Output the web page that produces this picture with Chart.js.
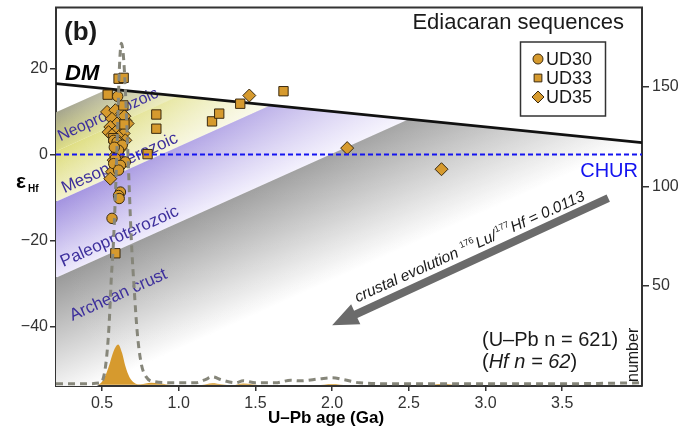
<!DOCTYPE html>
<html>
<head>
<meta charset="utf-8">
<title>Ediacaran sequences – εHf vs U–Pb age</title>
<script src="https://cdn.jsdelivr.net/npm/chart.js@4.4.1/dist/chart.umd.min.js"></script>
<style>
  html, body { margin: 0; padding: 0; background: #ffffff; }
  #wrap { width: 696px; height: 434px; }
</style>
</head>
<body>
<div id="wrap"><canvas id="chart" width="696" height="434"></canvas></div>
<script>
// ---- Zircon Hf data: U–Pb age (Ga) and εHf(t) for each sample ----
const ud30Age = [0.602, 0.576, 0.598, 0.632, 0.608, 0.587, 0.652, 0.576, 0.620, 0.608, 0.620, 0.608, 0.612, 0.565, 0.580];
const ud30Eps = [13.5, 3.3, 2.9, 2.2, 1.0, -0.9, -1.7, -2.1, -2.5, -3.6, -8.7, -9.5, -10.2, -14.8, 1.7];

const ud33Age = [0.608, 0.641, 0.537, 0.639, 0.854, 0.854, 0.797, 1.217, 1.264, 1.401, 1.683, 0.587, 0.646, 0.607, 0.574];
const ud33Eps = [17.6, 17.8, 13.9, 11.4, 9.3, 6.0, 0.1, 7.7, 9.5, 11.8, 14.7, -22.9, 7.0, 0.5, 3.8];

const ud35Age = [1.460, 2.098, 2.713, 0.533, 0.587, 0.631, 0.565, 0.652, 0.598, 0.667, 0.554, 0.631, 0.543,
                 0.587, 0.641, 0.565, 0.608, 0.652, 0.620, 0.598, 0.587, 0.576, 0.565, 0.554, 0.613, 0.646];
const ud35Eps = [13.7, 1.5, -3.4, 9.9, 10.3, 9.5, 8.3, 7.9, 7.2, 7.2, 6.4, 6.4, 5.2,
                 5.2, 4.9, 4.5, 4.1, 3.3, 1.4, 0.2, -0.2, -1.3, -4.0, -5.6, 2.9, 8.9];

// ---- Age distributions on the "number" axis ----
const hfKdeAge = [0.2, 0.36, 0.49, 0.515, 0.535, 0.548, 0.56, 0.574, 0.586, 0.6, 0.613, 0.626, 0.639, 0.652,
                  0.665, 0.678, 0.691, 0.71, 0.73, 0.756, 0.788, 0.847, 0.977, 1.107, 1.17, 1.22, 1.28, 1.37,
                  1.42, 1.5, 1.63, 1.73, 1.79, 1.92, 2.0, 2.08, 2.18, 2.44, 2.77, 3.09, 3.48, 3.81, 4.02];
const hfKdeCount = [0.5, 0.5, 1, 5.5, 18, 33, 53, 71, 93, 125, 159, 172, 166, 149,
                    124, 98, 73, 48, 26, 10.5, 4, 1.5, 1, 1, 2.5, 4, 2.5, 1,
                    2, 1, 1, 2.3, 2, 3, 3.5, 2.5, 1, 0.5, 0.5, 0.5, 0.5, 0.8, 1];

const upbKdeAge = [0.2, 0.45, 0.489, 0.515, 0.543, 0.576, 0.605, 0.631, 0.65, 0.667, 0.69, 0.717, 0.75,
                   0.82, 0.88, 0.95, 1.15, 1.22, 1.28, 1.35, 1.42, 1.48, 1.55, 1.9, 2.0, 2.1, 2.6, 2.72, 2.85, 4.02];
const upbKdeCount = [0, 0, 0.7, 3.5, 9, 17, 20.3, 16, 10, 6, 2.5, 0.7, 0.3,
                     1, 0.6, 0, 0, 0.8, 0.3, 0, 0.7, 0.3, 0, 0, 0.4, 0, 0, 0.4, 0, 0];

// ---- Reference lines ----
const dmAge = [0.2, 4.02];
const dmEps = [16.45, 2.78];
const churAge = [0.2, 4.02];
const churEps = [0, 0];

// Crustal evolution bands: model ages (Ga) where each band leaves the DM line
const modelAgeBounds = [0.54, 1.0, 1.6, 2.5, 4.0];
const bandNames = ['Neoproterozoic', 'Mesoproterozoic', 'Paleoproterozoic', 'Archean crust'];
const bandLabelAge = [0.229, 0.255, 0.248, 0.307];
const bandLabelEps = [3.1, -9.0, -26.1, -38.6];
const crustSlope = 16;            // εHf units per Ga for 176Lu/177Hf = 0.0113
const arrowAge = [3.8, 2.0];
const arrowEps = [-10.1, -39.6];
const arrowLabelAt = [2.165, -34.3];

// ---- Axis ticks ----
const xTicks = [0.5, 1.0, 1.5, 2.0, 2.5, 3.0, 3.5];
const yTicks = [20, 0, -20, -40];
const countTicks = [50, 100, 150];

// ---- Styles ----
const FONT = '"Liberation Sans", Arial, Helvetica, sans-serif';
const ORANGE = '#d69a2e';
const OUTLINE = '#3a2a10';
const AXIS = '#333333';
const bandFill = [
  { top: '#a4a48c', bottom: '#dcdc84', fade: 0.55 },
  { top: '#dedd7e', bottom: '#f3f2cf', fade: 0.6 },
  { top: '#a393e0', bottom: '#eeeafc', fade: 0.5 },
  { top: '#9a9a9a', bottom: '#ffffff', fade: 0.2 }
];
const sampleMarkers = [
  { label: 'UD30', style: 'circle', radius: 5.2 },
  { label: 'UD33', style: 'rect', radius: 6.6 },
  { label: 'UD35', style: 'rectRot', radius: 6.5 }
];

const pairs = (xs, ys) => xs.map((v, i) => ({ x: v, y: ys[i] }));

function marker(ctx, style, x, y, r) {
  ctx.beginPath();
  if (style === 'circle') {
    ctx.arc(x, y, r, 0, Math.PI * 2);
  } else if (style === 'rect') {
    const h = r * Math.SQRT1_2;
    ctx.rect(x - h, y - h, 2 * h, 2 * h);
  } else {
    ctx.moveTo(x - r, y); ctx.lineTo(x, y - r); ctx.lineTo(x + r, y); ctx.lineTo(x, y + r); ctx.closePath();
  }
  ctx.fillStyle = ORANGE; ctx.fill();
  ctx.lineWidth = 1; ctx.strokeStyle = OUTLINE; ctx.stroke();
}

// Background bands, band names, arrow and annotations
const decorations = {
  id: 'decorations',
  beforeDatasetsDraw(chart) {
    const { ctx, chartArea: a, scales: { x, y } } = chart;
    const px = v => x.getPixelForValue(v), py = v => y.getPixelForValue(v);
    const dm = t => dmEps[0] + (dmEps[1] - dmEps[0]) * (t - dmAge[0]) / (dmAge[1] - dmAge[0]);
    const evo = (T, t) => dm(T) - crustSlope * (T - t);
    const t0 = x.min;
    const s = (py(0) - py(crustSlope)) / (px(1) - px(0));
    const nl = Math.hypot(s, 1), nx = s / nl, ny = 1 / nl;

    ctx.save();
    ctx.beginPath(); ctx.rect(a.left, a.top, a.width, a.height); ctx.clip();
    for (let i = 0; i < bandNames.length; i++) {
      const T1 = modelAgeBounds[i], T2 = modelAgeBounds[i + 1];
      const path = () => {
        ctx.beginPath();
        ctx.moveTo(px(t0), py(evo(T1, t0)));
        ctx.lineTo(px(T1), py(dm(T1)));
        ctx.lineTo(px(T2), py(dm(T2)));
        ctx.lineTo(px(t0), py(evo(T2, t0)));
        ctx.closePath();
      };
      const p1x = px(T1), p1y = py(dm(T1)), p2x = px(T2), p2y = py(dm(T2));
      const d = (p2x - p1x) * nx + (p2y - p1y) * ny;
      const g = ctx.createLinearGradient(p1x, p1y, p1x + nx * d, p1y + ny * d);
      g.addColorStop(0, bandFill[i].top);
      g.addColorStop(1, bandFill[i].bottom);
      path(); ctx.fillStyle = g; ctx.fill();
      const w = ctx.createLinearGradient(px(t0), 0, px(T2), 0);
      w.addColorStop(0, 'rgba(255,255,255,0)');
      w.addColorStop(1, 'rgba(255,255,255,' + bandFill[i].fade + ')');
      path(); ctx.fillStyle = w; ctx.fill();
    }
    // band names, rotated along the evolution trend
    const ang = -Math.atan(s);
    ctx.fillStyle = '#3d2f9c';
    ctx.textBaseline = 'alphabetic';
    ctx.textAlign = 'left';
    bandNames.forEach((name, i) => {
      ctx.save();
      ctx.translate(px(bandLabelAge[i]), py(bandLabelEps[i]));
      ctx.rotate(ang);
      ctx.font = (i === 0 ? 16 : 17) + 'px ' + FONT;
      ctx.fillText(name, 0, 0);
      ctx.restore();
    });
    ctx.restore();
  },
  afterDatasetsDraw(chart) {
    const { ctx, chartArea: a, scales: { x, y } } = chart;
    const px = v => x.getPixelForValue(v), py = v => y.getPixelForValue(v);
    const s = (py(0) - py(crustSlope)) / (px(1) - px(0));
    ctx.save();
    // crustal evolution arrow
    const ax1 = px(arrowAge[0]), ay1 = py(arrowEps[0]), ax2 = px(arrowAge[1]), ay2 = py(arrowEps[1]);
    const L = Math.hypot(ax2 - ax1, ay2 - ay1), ux = (ax2 - ax1) / L, uy = (ay2 - ay1) / L;
    const headLen = 26, headHalf = 11, half = 4;
    const bx = ax2 - ux * headLen, by = ay2 - uy * headLen;
    ctx.fillStyle = '#6b6b6b';
    ctx.beginPath();
    ctx.moveTo(ax1 - uy * half, ay1 + ux * half);
    ctx.lineTo(bx - uy * half, by + ux * half);
    ctx.lineTo(bx - uy * headHalf, by + ux * headHalf);
    ctx.lineTo(ax2, ay2);
    ctx.lineTo(bx + uy * headHalf, by - ux * headHalf);
    ctx.lineTo(bx + uy * half, by - ux * half);
    ctx.lineTo(ax1 + uy * half, ay1 - ux * half);
    ctx.closePath();
    ctx.fill();

    // arrow caption with superscript isotopes
    ctx.save();
    ctx.translate(px(arrowLabelAt[0]), py(arrowLabelAt[1]));
    ctx.rotate(-Math.atan(s));
    ctx.fillStyle = '#1a1a1a';
    ctx.textAlign = 'left';
    ctx.textBaseline = 'alphabetic';
    let cx = 0;
    const seg = (t, font, dy) => { ctx.font = font; ctx.fillText(t, cx, dy); cx += ctx.measureText(t).width; };
    const big = 'italic 15.5px ' + FONT, sup = '9px ' + FONT;
    seg('crustal evolution ', big, 0);
    seg('176', sup, -7);
    cx += 1;
    seg('Lu/', big, 0);
    cx += 1;
    seg('177', sup, -7);
    cx += 1;
    seg('Hf = 0.0113', big, 0);
    ctx.restore();

    // reference line names
    ctx.textBaseline = 'alphabetic';
    ctx.fillStyle = '#000000';
    ctx.textAlign = 'left';
    ctx.font = 'bold italic 22px ' + FONT;
    ctx.fillText('DM', a.left + 9, 80);
    ctx.fillStyle = '#1414f0';
    ctx.textAlign = 'right';
    ctx.font = '20px ' + FONT;
    ctx.fillText('CHUR', a.right - 4, 177);

    // panel letter and title
    ctx.fillStyle = '#1a1a1a';
    ctx.textAlign = 'left';
    ctx.font = 'bold 26px ' + FONT;
    ctx.fillText('(b)', a.left + 8, 40);
    ctx.textAlign = 'right';
    ctx.font = '22px ' + FONT;
    ctx.fillText('Ediacaran sequences', 624, 29);

    // sample counts
    ctx.textAlign = 'left';
    ctx.font = '20px ' + FONT;
    ctx.fillText('(U\u2013Pb n = 621)', 482, 346);
    let tx = 482;
    ctx.fillText('(', tx, 368); tx += ctx.measureText('(').width;
    ctx.font = 'italic 20px ' + FONT;
    ctx.fillText('Hf n = 62', tx, 368); tx += ctx.measureText('Hf n = 62').width;
    ctx.font = '20px ' + FONT;
    ctx.fillText(')', tx, 368);

    // "number" label for the distribution axis
    ctx.save();
    ctx.translate(a.right - 4, a.bottom - 4);
    ctx.rotate(-Math.PI / 2);
    ctx.font = '16px ' + FONT;
    ctx.textAlign = 'left';
    ctx.fillText('number', 0, 0);
    ctx.restore();
    ctx.restore();
  },
  afterDraw(chart) {
    const { ctx, chartArea: a } = chart;
    ctx.save();
    // top frame line
    ctx.strokeStyle = AXIS; ctx.lineWidth = 2;
    ctx.beginPath(); ctx.moveTo(a.left - 1, a.top); ctx.lineTo(a.right + 1, a.top); ctx.stroke();

    // legend box
    ctx.fillStyle = '#ffffff';
    ctx.fillRect(520.5, 42, 85, 74);
    ctx.strokeStyle = '#333333'; ctx.lineWidth = 1.5;
    ctx.strokeRect(520.5, 42, 85, 74);
    const rows = [59, 78, 97];
    const legendR = [5, 5.5, 6];
    sampleMarkers.forEach((m, i) => {
      marker(ctx, m.style, 538, rows[i], legendR[i]);
      ctx.fillStyle = '#1a1a1a';
      ctx.font = '18px ' + FONT;
      ctx.textAlign = 'left';
      ctx.textBaseline = 'middle';
      ctx.fillText(m.label, 546, rows[i] + 1);
    });

    // y axis title: εHf
    ctx.textBaseline = 'alphabetic';
    ctx.textAlign = 'left';
    ctx.fillStyle = '#000000';
    ctx.font = 'bold 21px ' + FONT;
    ctx.fillText('\u03b5', 16, 188);
    ctx.font = 'bold 10px ' + FONT;
    ctx.fillText('Hf', 28, 192);

    // x axis title
    ctx.font = 'bold 17px ' + FONT;
    ctx.textAlign = 'center';
    ctx.fillText('U\u2013Pb age (Ga)', 326, 423);
    ctx.restore();
  }
};

const sampleData = [pairs(ud30Age, ud30Eps), pairs(ud33Age, ud33Eps), pairs(ud35Age, ud35Eps)];
const sampleSets = sampleMarkers.map((m, i) => ({
  label: m.label,
  data: sampleData[i],
  pointStyle: m.style,
  pointRadius: m.radius,
  pointHoverRadius: m.radius,
  backgroundColor: ORANGE,
  borderColor: OUTLINE,
  borderWidth: 1,
  showLine: false,
  order: 2
}));

// keep the plot frame fixed: no extra room reserved for edge labels
const noEdgePadding = s => { s.paddingTop = 0; s.paddingBottom = 0; s.paddingLeft = 0; s.paddingRight = 0; };

new Chart(document.getElementById('chart'), {
  type: 'scatter',
  data: {
    datasets: [
      ...sampleSets,
      { label: 'DM', data: pairs(dmAge, dmEps), showLine: true, pointRadius: 0,
        borderColor: '#111111', borderWidth: 2.6, order: 4 },
      { label: 'CHUR', data: pairs(churAge, churEps), showLine: true, pointRadius: 0,
        borderColor: '#1414f0', borderWidth: 2, borderDash: [5, 3], order: 1 },
      { label: 'U–Pb', data: pairs(upbKdeAge, upbKdeCount), yAxisID: 'n', showLine: true,
        pointRadius: 0, borderWidth: 0, borderColor: ORANGE, backgroundColor: ORANGE,
        fill: 'origin', cubicInterpolationMode: 'monotone', order: 5 },
      { label: 'Hf', data: pairs(hfKdeAge, hfKdeCount), yAxisID: 'n', showLine: true,
        pointRadius: 0, borderColor: '#86867a', borderWidth: 3, borderDash: [7, 5],
        cubicInterpolationMode: 'monotone', fill: false, order: 0 }
    ]
  },
  options: {
    responsive: false,
    animation: false,
    layout: { padding: { top: 7, left: 0, right: 0, bottom: 0 } },
    plugins: { legend: { display: false }, tooltip: { enabled: false } },
    scales: {
      x: {
        type: 'linear', min: 0.2, max: 4.02,
        afterBuildTicks: s => { s.ticks = xTicks.map(v => ({ value: v })); },
        afterFit: s => { s.height = 48; noEdgePadding(s); },
        ticks: { callback: v => Number(v).toFixed(1), color: AXIS, font: { size: 16, family: FONT },
                 padding: 3, maxRotation: 0, autoSkip: false },
        grid: { drawOnChartArea: false, drawTicks: true, tickLength: 5, color: AXIS, lineWidth: 1.5 },
        border: { display: true, color: AXIS, width: 2 }
      },
      y: {
        type: 'linear', position: 'left', min: -53.7, max: 34.1,
        afterBuildTicks: s => { s.ticks = yTicks.map(v => ({ value: v })); },
        afterFit: s => { s.width = 56; noEdgePadding(s); },
        ticks: { callback: v => String(v).replace('-', '\u2212'), color: AXIS,
                 font: { size: 16, family: FONT }, padding: 2, autoSkip: false },
        grid: { drawOnChartArea: false, drawTicks: true, tickLength: 6, color: AXIS, lineWidth: 1.5 },
        border: { display: true, color: AXIS, width: 2 }
      },
      n: {
        type: 'linear', position: 'right', min: -0.6, max: 190,
        afterBuildTicks: s => { s.ticks = countTicks.map(v => ({ value: v })); },
        afterFit: s => { s.width = 54; noEdgePadding(s); },
        ticks: { color: AXIS, font: { size: 16, family: FONT }, padding: 3, autoSkip: false },
        grid: { drawOnChartArea: false, drawTicks: true, tickLength: 7, color: AXIS, lineWidth: 1.5 },
        border: { display: true, color: AXIS, width: 2 }
      }
    }
  },
  plugins: [decorations]
});
</script>
</body>
</html>
